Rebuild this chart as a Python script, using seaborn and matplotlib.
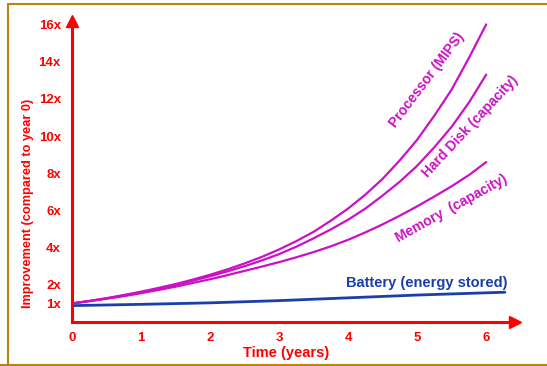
import pandas as pd
import seaborn as sns
import matplotlib.pyplot as plt
from matplotlib.lines import Line2D

# 读图估计的数据
years = [0, 0.25, 0.5, 0.75, 1, 1.25, 1.5, 1.75, 2, 2.25, 2.5, 2.75, 3,
         3.25, 3.5, 3.75, 4, 4.25, 4.5, 4.75, 5, 5.25, 5.5, 5.75, 6]
processor = [1, 1.13, 1.28, 1.45, 1.63, 1.83, 2.04, 2.28, 2.54, 2.83, 3.15, 3.5, 3.9,
             4.35, 4.85, 5.45, 6.1, 6.85, 7.7, 8.7, 9.8, 11.1, 12.5, 14.2, 16]
hard_disk = [1, 1.13, 1.27, 1.43, 1.6, 1.79, 2.0, 2.22, 2.46, 2.72, 3.0, 3.31, 3.65,
             4.05, 4.5, 4.98, 5.5, 6.1, 6.8, 7.55, 8.4, 9.4, 10.5, 11.8, 13.3]
memory = [1, 1.12, 1.25, 1.39, 1.55, 1.72, 1.9, 2.1, 2.3, 2.52, 2.75, 2.98, 3.22,
          3.48, 3.76, 4.07, 4.42, 4.82, 5.25, 5.72, 6.22, 6.75, 7.3, 7.9, 8.6]
battery_years = [0, 1, 2, 3, 4, 5, 6, 6.27]
battery = [0.88, 0.95, 1.03, 1.15, 1.3, 1.45, 1.57, 1.6]

y_ticks = [1, 2, 4, 6, 8, 10, 12, 14, 16]
y_tick_labels = ['1x', '2x', '4x', '6x', '8x', '10x', '12x', '14x', '16x']
x_ticks = [0, 1, 2, 3, 4, 5, 6]

df = pd.DataFrame({'year': years, 'Processor': processor,
                   'Hard Disk': hard_disk, 'Memory': memory})
df_bat = pd.DataFrame({'year': battery_years, 'Battery': battery})

sns.set_style('white')
plt.rcParams['font.family'] = ['Liberation Sans', 'DejaVu Sans']
plt.rcParams['font.weight'] = 'bold'

red = '#ff0000'
magenta = '#cc10c4'
blue = '#1a3fa8'

fig = plt.figure(figsize=(5.47, 3.66), dpi=100)
ax = fig.add_axes([0.1316, 0.1202, 0.809, 0.8232])

for col in ['Processor', 'Hard Disk', 'Memory']:
    sns.lineplot(data=df, x='year', y=col, ax=ax, color=magenta, linewidth=1.6)
sns.lineplot(data=df_bat, x='year', y='Battery', ax=ax, color=blue, linewidth=2)

ax.set_xlim(0, 6.41)
ax.set_ylim(0, 16.2)
ax.set_xticks(x_ticks)
ax.set_yticks(y_ticks)
ax.set_yticklabels(y_tick_labels)
ax.tick_params(length=0, colors=red, labelsize=9.5)
ax.tick_params(axis='y', pad=8)
ax.tick_params(axis='x', pad=7)
for lab in ax.get_xticklabels() + ax.get_yticklabels():
    lab.set_fontweight('bold')

for s in ['top', 'right']:
    ax.spines[s].set_visible(False)
for s in ['left', 'bottom']:
    ax.spines[s].set_color(red)
    ax.spines[s].set_linewidth(2.2)

# 箭头
ax.plot(1, 0, '>', color=red, markersize=8, transform=ax.get_yaxis_transform(), clip_on=False)
ax.plot(0, 1, '^', color=red, markersize=8, transform=ax.get_xaxis_transform(), clip_on=False)

ax.set_xlabel('Time (years)', color=red, fontsize=10.5, fontweight='bold')
ax.set_ylabel('Improvement (compared to year 0)', color=red, fontsize=9.2, fontweight='bold')
ax.xaxis.set_label_coords(0.485, -0.103)
ax.xaxis.label.set_va('center')
ax.yaxis.set_label_coords(-0.1, 0.395)
ax.yaxis.label.set_va('center')

# 曲线标注
ax.text(5.14, 13.0, 'Processor (MIPS)', color=magenta, fontsize=10, fontweight='bold',
        rotation=53, ha='center', va='center', rotation_mode='anchor')
ax.text(5.77, 10.5, 'Hard Disk (capacity)', color=magenta, fontsize=10, fontweight='bold',
        rotation=47, ha='center', va='center', rotation_mode='anchor')
ax.text(5.49, 6.1, 'Memory  (capacity)', color=magenta, fontsize=10, fontweight='bold',
        rotation=29, ha='center', va='center', rotation_mode='anchor')
ax.text(5.14, 2.1, 'Battery (energy stored)', color=blue, fontsize=10.5, fontweight='bold',
        ha='center', va='center')

# 外框
frame = '#b8860b'
fig.add_artist(Line2D([8 / 547, 8 / 547], [1 / 366, 1 - 4 / 366], color=frame, lw=1.5))
fig.add_artist(Line2D([8 / 547, 1], [1 - 4 / 366, 1 - 4 / 366], color=frame, lw=1.5))
fig.add_artist(Line2D([0, 1], [1 / 366, 1 / 366], color=frame, lw=1.5))

plt.savefig('out.png', dpi=100)
